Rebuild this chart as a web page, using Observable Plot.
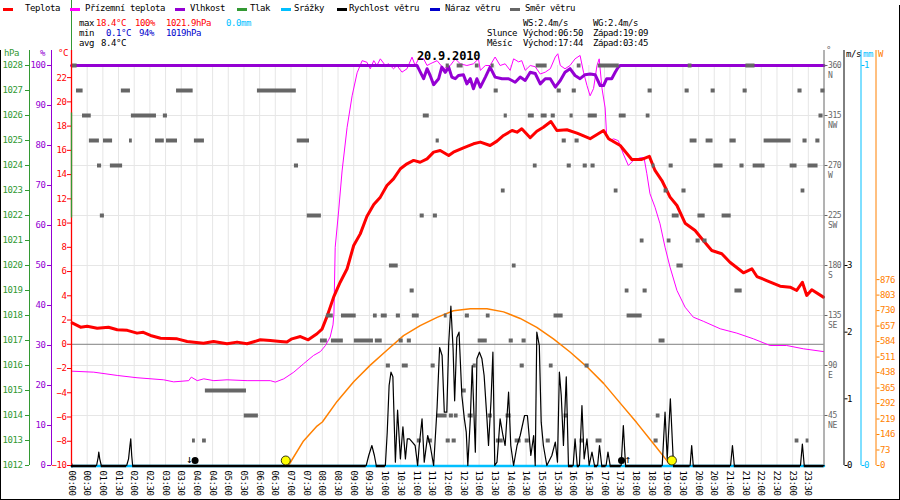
<!DOCTYPE html>
<html><head><meta charset="utf-8">
<script src="https://cdn.jsdelivr.net/npm/d3@7"></script>
<script src="https://cdn.jsdelivr.net/npm/@observablehq/plot@0.6"></script>
<style>
body{margin:0;background:#fff;}
#wrap{position:relative;width:900px;height:500px;overflow:hidden;font-family:"DejaVu Sans Mono",monospace;background:#fff;}
#hdr{position:absolute;left:0;top:0;width:900px;height:65px;pointer-events:none;}
#hdr span{position:absolute;white-space:pre;letter-spacing:-0.42px;}
#hdr div{position:absolute;}
svg text{letter-spacing:-0.42px;}
.bd{position:absolute;background:#000;}
</style></head><body>
<div id="wrap"><div id="chart"></div><div id="hdr"></div>
<div class="bd" style="left:0;top:50px;width:1px;height:450px"></div>
<div class="bd" style="left:899px;top:5px;width:1px;height:495px"></div>
<div class="bd" style="left:0;top:499px;width:900px;height:1px"></div>
</div>
<script>
// ---------- data (hours of day, values) ----------
const tempT = [[0.02,1.77],[0.29,1.41],[0.5,1.49],[0.82,1.33],[1.18,1.41],[1.46,1.2],[1.78,1.15],[2.09,0.92],[2.29,0.99],[2.52,0.73],[2.84,0.5],[3.37,0.45],[3.69,0.23],[4.21,0.09],[4.53,0.23],[4.96,0.04],[5.28,0.18],[5.6,0.04],[6.02,0.37],[6.34,0.32],[6.66,0.23],[6.87,0.18],[7.03,0.45],[7.3,0.64],[7.55,0.37],[7.83,0.87],[7.99,1.25],[8.15,2.3],[8.36,3.89],[8.57,5.12],[8.79,6.23],[9.0,8.15],[9.21,9.11],[9.42,10.54],[9.64,11.53],[9.85,12.14],[10.06,13.1],[10.27,13.65],[10.49,14.48],[10.7,14.89],[10.91,15.17],[11.12,15.02],[11.34,15.3],[11.55,15.85],[11.76,15.99],[12.03,15.58],[12.18,15.85],[12.5,16.21],[12.82,16.54],[13.04,16.68],[13.35,16.4],[13.57,16.76],[13.78,17.23],[14.05,17.64],[14.21,17.5],[14.36,17.78],[14.63,17.04],[14.84,17.58],[15.05,17.91],[15.29,18.38],[15.48,17.64],[15.8,17.7],[16.12,17.42],[16.22,17.31],[16.54,16.96],[16.97,17.64],[17.13,16.96],[17.5,16.4],[17.87,15.25],[18.19,15.25],[18.43,15.5],[18.61,14.34],[18.83,13.51],[19.09,12.14],[19.31,11.45],[19.57,9.99],[19.89,9.39],[20.15,8.56],[20.42,7.74],[20.74,7.47],[21.0,6.77],[21.43,5.9],[21.7,6.23],[21.86,5.59],[22.17,5.26],[22.6,4.79],[22.92,4.71],[23.13,4.44],[23.31,5.12],[23.45,4.03],[23.61,4.5],[23.98,3.89]];

const apparentT = [[0.02,-2.22],[0.71,-2.3],[1.46,-2.57],[2.09,-2.76],[2.94,-2.93],[3.26,-3.1],[3.74,-3.0],[3.82,-2.71],[4.01,-3.0],[4.22,-2.85],[4.54,-3.0],[4.96,-2.93],[5.6,-3.0],[6.34,-3.0],[6.5,-3.12],[6.77,-2.85],[7.09,-2.3],[7.4,-1.61],[7.72,-0.92],[7.94,-0.6],[8.1,-0.1],[8.25,0.6],[8.34,1.6],[8.37,2.5],[8.41,8.0],[8.52,11.0],[8.63,14.3],[8.79,17.9],[8.95,20.5],[9.11,22.4],[9.27,23.4],[9.42,23.27],[9.53,22.73],[9.64,23.4],[9.74,23.0],[9.85,23.55],[10.01,23.0],[10.11,23.14],[10.27,22.73],[10.38,23.0],[10.54,22.45],[10.7,22.73],[10.86,23.69],[10.96,23.0],[11.07,23.55],[11.23,23.55],[11.34,23.0],[11.44,23.14],[11.66,23.4],[11.87,22.73],[12.08,23.0],[12.24,23.55],[12.4,23.14],[12.61,23.0],[12.82,23.14],[12.98,23.55],[13.04,22.6],[13.2,23.0],[13.35,23.0],[13.51,23.7],[13.67,23.0],[13.83,23.14],[13.99,22.6],[14.1,23.55],[14.26,23.3],[14.36,23.4],[14.47,22.6],[14.63,23.0],[14.79,22.9],[14.95,22.3],[15.11,22.45],[15.27,22.73],[15.43,23.7],[15.51,23.97],[15.59,23.0],[15.74,22.73],[15.9,23.0],[16.06,23.55],[16.22,23.83],[16.33,22.45],[16.44,21.35],[16.54,20.5],[16.65,21.1],[16.76,23.0],[16.83,23.55],[16.92,21.1],[17.02,19.5],[17.07,17.1],[17.16,16.8],[17.29,16.95],[17.44,16.8],[17.6,15.7],[17.76,14.75],[17.92,15.17],[18.14,15.39],[18.26,15.4],[18.35,14.07],[18.45,12.42],[18.61,11.31],[18.77,9.94],[18.93,8.01],[19.09,6.36],[19.31,4.44],[19.57,3.06],[19.83,2.24],[20.15,1.9],[20.69,1.28],[21.22,0.92],[21.75,0.45],[22.28,-0.1],[22.81,-0.1],[23.34,-0.37],[23.98,-0.6]];

const humidity = [[0,100],[11.02,100],[11.07,99.2],[11.23,96.7],[11.34,99.2],[11.44,97.5],[11.55,95.2],[11.71,96.7],[11.81,99.6],[11.92,98.3],[12.03,99.6],[12.13,97.1],[12.24,96.7],[12.34,97.5],[12.5,97.7],[12.61,95.4],[12.72,96.7],[12.82,94.2],[12.93,96.7],[13.04,94.6],[13.2,97.1],[13.35,99.6],[13.51,97.1],[13.73,96.7],[13.94,96.7],[14.15,95.8],[14.31,97.1],[14.47,96.25],[14.63,98.3],[14.79,98.0],[14.95,95.4],[15.11,96.7],[15.27,96.7],[15.43,94.6],[15.59,96.25],[15.74,98.3],[15.9,99.2],[16.06,97.5],[16.22,96.7],[16.38,97.7],[16.54,97.9],[16.7,97.7],[16.86,95.0],[16.97,95.0],[17.07,96.7],[17.23,96.7],[17.34,98.3],[17.44,99.6],[17.5,100],[24,100]];

const windSpeed = [[0,0],[0.8,0],[0.85,0.12],[0.87,0.2],[0.9,0.1],[0.95,0],[1.76,0],[1.82,0.1],[1.86,0.28],[1.89,0.4],[1.92,0.15],[1.95,0],[9.4,0],[9.48,0.15],[9.58,0.3],[9.66,0.15],[9.72,0],[10.01,0],[10.07,0.5],[10.13,1.2],[10.19,1.4],[10.25,1.33],[10.33,0.05],[10.4,0.83],[10.49,0.1],[10.57,0.58],[10.65,0.1],[10.71,0.4],[10.78,0.4],[10.87,0.35],[10.96,0.3],[11.04,0],[11.09,0.3],[11.18,0.7],[11.25,0.05],[11.36,0.45],[11.44,0.3],[11.55,0],[11.66,0.87],[11.74,1.77],[11.82,1.65],[11.89,0.8],[11.97,0.8],[12.03,1.83],[12.1,2.39],[12.17,1.75],[12.22,0.97],[12.29,1.92],[12.36,2.0],[12.45,1.05],[12.53,0.7],[12.59,0.5],[12.64,0],[12.72,0.7],[12.78,1.5],[12.88,0.2],[12.93,1.6],[13.01,1.7],[13.09,1.6],[13.16,1.35],[13.25,0.7],[13.3,0.3],[13.38,0.97],[13.44,1.7],[13.5,0],[13.57,0.05],[13.67,0.7],[13.76,0.45],[13.83,0.3],[13.94,1.1],[14.01,0.3],[14.1,0],[14.21,0.3],[14.31,0.45],[14.45,0.75],[14.54,0.75],[14.65,0.15],[14.74,0.45],[14.79,0],[14.84,2.0],[14.92,1.8],[14.98,0.65],[15.05,0.3],[15.16,0],[15.32,0.15],[15.43,0.35],[15.5,0.05],[15.56,1.4],[15.62,1.05],[15.69,0.3],[15.78,1.33],[15.85,0],[16.0,0],[16.06,0.4],[16.13,0],[16.2,0],[16.28,0.9],[16.35,0.1],[16.44,0.4],[16.51,0],[16.6,0.2],[16.68,0],[16.78,0],[16.84,0.3],[16.91,0],[17.05,0],[17.11,0.2],[17.18,0],[17.53,0],[17.6,0.6],[17.67,0],[18.84,0],[18.93,0.8],[19.0,0.1],[19.1,1.0],[19.2,0],[19.73,0],[19.78,0.3],[19.83,0],[21.02,0],[21.08,0.3],[21.14,0],[23.25,0],[23.31,0.32],[23.37,0],[24,0]];

const solar = [[6.92,0],[7.4,116],[7.83,186],[8.0,205],[8.47,302],[9.0,395],[9.53,473],[10.06,543],[10.59,612],[11.12,659],[11.66,698],[12.18,729],[12.72,739],[13.25,739],[13.78,724],[14.31,693],[14.84,651],[15.37,597],[15.9,535],[16.44,465],[16.97,387],[17.5,294],[18.03,201],[18.57,101],[18.99,23],[19.1,0]];

const precip = [[0,0],[24,0]];
const pressureTrace = [[0,1021.9,1026.1]];

// wind direction: [from hour, to hour, degrees]
const windDir = [[0,0.06,0],[0.02,0.18,360],[0.16,0.37,337.5],[1.59,1.88,337.5],[3.35,3.88,337.5],[5.93,7.17,337.5],[0.35,0.63,315],[1.91,2.71,315],[2.93,3.06,315],[0.57,0.89,292.5],[1.02,1.31,292.5],[1.85,1.94,292.5],[2.68,2.96,292.5],[3.03,3.38,292.5],[3.92,4.24,292.5],[7.2,7.59,292.5],[0.83,0.96,270],[1.24,1.63,270],[7.11,7.24,270],[0.92,1.05,225],[7.52,7.97,225],[4.27,5.58,67.5],[5.51,5.96,45],[3.86,3.95,22.5],[4.18,4.3,22.5],
[11.95,12.05,360],[12.3,12.49,360],[12.88,13.0,360],[13.39,13.48,360],[14.82,15.17,360],[16.13,16.25,360],[16.8,17.47,360],
[13.48,13.61,337.5],[15.49,15.62,337.5],[15.97,16.1,337.5],
[11.22,11.41,315],[13.8,13.9,315],[14.57,14.76,315],[14.98,15.17,315],[15.3,15.43,315],[15.9,16.0,315],
[11.63,11.73,292.5],[15.65,15.78,292.5],[16.06,16.19,292.5],
[14.73,14.85,270],[15.81,15.94,270],[13.71,13.83,247.5],[11.12,11.25,225],[11.54,11.67,225],
[10.14,10.42,180],[14.06,14.18,180],[10.8,10.93,157.5],
[8.13,8.35,135],[8.61,9.08,135],[9.63,9.75,135],[9.88,10.07,135],[10.36,10.49,135],[10.87,11.09,135],[11.89,11.98,135],[12.56,12.69,135],[13.23,13.35,135],[15.39,15.68,135],
[7.94,8.16,112.5],[8.29,8.67,112.5],[9.02,9.63,112.5],[9.69,9.91,112.5],[10.45,10.58,112.5],[10.71,10.84,112.5],[12.97,13.26,112.5],[13.96,14.09,112.5],[14.37,14.5,112.5],
[10.04,10.17,90],[10.55,10.74,90],[11.47,11.6,90],[12.81,12.91,90],[14.31,14.44,90],[15.24,15.36,90],
[12.46,12.59,67.5],
[11.67,11.98,45],[12.05,12.18,45],[12.21,12.33,45],[12.65,12.81,45],[13.29,13.42,45],[13.86,14.02,45],[15.71,15.84,45],
[11.03,11.16,22.5],[11.38,11.51,22.5],[11.95,12.08,22.5],[12.14,12.27,22.5],[13.55,13.77,22.5],[14.15,14.34,22.5],[14.47,14.6,22.5],[15.14,15.27,22.5],
[19.67,19.79,360],[21.51,21.8,360],
[18.39,18.52,337.5],[19.57,19.7,337.5],[20.4,20.53,337.5],[21.42,21.55,337.5],[23.17,23.3,337.5],[23.9,24.03,337.5],
[16.48,16.77,315],[17.47,17.69,315],[18.33,18.45,315],[23.84,23.97,315],
[19.73,19.95,292.5],[20.24,20.46,292.5],[21.0,21.2,292.5],[22.09,22.95,292.5],[23.33,23.46,292.5],[23.74,23.87,292.5],
[16.32,16.45,270],[16.57,16.7,270],[18.52,18.61,270],[19.06,19.19,270],[20.49,20.78,270],[21.32,21.45,270],[21.74,22.12,270],[22.92,23.14,270],[23.49,23.81,270],
[17.31,17.43,247.5],[18.9,19.03,247.5],[19.47,19.6,247.5],[23.27,23.39,247.5],
[19.16,19.38,225],[19.98,20.21,225],[20.75,21.04,225],
[18.14,18.26,202.5],[19.0,19.12,202.5],[19.92,20.05,202.5],[20.14,20.27,202.5],
[19.31,19.51,180],[17.66,17.78,157.5],[18.23,18.36,157.5],[21.16,21.39,157.5],
[17.72,18.2,135],[18.74,18.93,112.5],[16.38,16.51,90],[18.65,18.77,45],
[16.22,16.35,22.5],[16.73,16.92,22.5],[18.58,18.71,22.5],[23.08,23.2,22.5],[23.43,23.52,22.5]];

const sunEvents = [[6 + 50/60, "Východ"], [19 + 9/60, "Západ"]];
const moonSet = [3 + 45/60];
const moonRise = [17 + 44/60];

// tick labels
const timeTicks = d3.range(0, 24, 0.5);
const tempTicks = d3.range(-10, 23, 2);
const humTicks = d3.range(0, 101, 10);
const pressTicks = d3.range(1012, 1029, 1);
const dirTicks = [45, 90, 135, 180, 225, 270, 315, 360];
const compass = {45:"NE", 90:"E", 135:"SE", 180:"S", 225:"SW", 270:"W", 315:"NW", 360:"N"};
const msTicks = [0, 1, 2, 3];
const mmTicks = [0, 1];
const wTicks = d3.range(0, 877, 73);

// header texts
const legendItems = [["Teplota","#ff0000",3,25],["Přízemní teplota","#ff00ff",70,85],["Vlhkost","#9400d3",175,190],["Tlak","#339933",237,250],["Srážky","#00bfff",281,294],["Rychlost větru","#000000",337,349],["Náraz větru","#0000cc",430,445],["Směr větru","#666666",510,525]];
const statTexts = [["max",79,24,"#000"],["18.4°C",96,24,"#f00"],["100%",135,24,"#f00"],["1021.9hPa",166,24,"#f00"],["0.0mm",226,24,"#00bfff"],
["min",79,34,"#000"],["0.1°C",106,34,"#0000cc"],["94%",139,34,"#0000cc"],["1019hPa",166,34,"#0000cc"],
["avg",79,44,"#000"],["8.4°C",101,44,"#000"],
["WS:2.4m/s",523,24,"#000"],["WG:2.4m/s",593,24,"#000"],
["Slunce",487,34,"#000"],["Východ:06:50",523,34,"#000"],["Západ:19:09",593,34,"#000"],
["Měsíc",487,44,"#000"],["Východ:17:44",523,44,"#000"],["Západ:03:45",593,44,"#000"],
["hPa",4,54,"#339933"],["%",40,54,"#9400d3"],["°C",58,54,"#ff0000"],
["°",826,51,"#666"],["m/s",846,55,"#000"],["mm",863,55,"#00bfff"],["W",878,55,"#ff8000"]];
const title = "20.9.2010";

// ---------- secondary-axis conversions into the temperature scale ----------
const hum2T = h => -10 + h * 33 / 100, T2hum = t => (t + 10) * 100 / 33;
const p2T = p => -10 + (p - 1012) * 33 / 16, T2p = t => 1012 + (t + 10) * 16 / 33;
const dir2T = d => -10 + d * 33 / 360, T2dir = t => (t + 10) * 360 / 33;
const ms2T = v => -10 + v * 33 / 6, T2ms = t => (t + 10) * 6 / 33;
const mm2T = m => -10 + m * 33, T2mm = t => (t + 10) / 33;
const W2T = w => -10 + w * 33 / 1885, T2W = t => (t + 10) * 1885 / 33;

const fmtTime = h => String(Math.floor(h)).padStart(2, "0") + ":" + (h % 1 ? "30" : "00");

// zero runs of wind speed (drawn as thick baseline)
const zeroRuns = [];
for (let i = 1; i < windSpeed.length; i++) {
  if (windSpeed[i - 1][1] === 0 && windSpeed[i][1] === 0) zeroRuns.push([windSpeed[i - 1][0], windSpeed[i][0]]);
}

const C = {red:"#ff0000", mag:"#ff00ff", pur:"#9400d3", grn:"#339933", cyan:"#00bfff", gray:"#666666", org:"#ff8000", grid:"#e6e6e6"};

const chart = Plot.plot({
  width: 900, height: 500,
  marginTop: 65, marginBottom: 35, marginLeft: 71, marginRight: 76.5,
  x: {domain: [0, 24]},
  y: {domain: [-10, 23]},
  style: {fontFamily: "DejaVu Sans Mono", fontSize: "9px", background: "white", color: "black"},
  marks: [
    Plot.ruleX(d3.range(0.5, 24, 0.5), {stroke: C.grid}),
    Plot.ruleY(dirTicks.slice(0, -1).map(dir2T), {stroke: C.grid}),
    Plot.ruleY([0], {stroke: "#808080"}),
    Plot.line(solar, {x: d => d[0], y: d => W2T(d[1]), stroke: C.org, strokeWidth: 1.5}),
    Plot.line(apparentT, {x: d => d[0], y: d => d[1], stroke: C.mag, strokeWidth: 1}),
    Plot.line(humidity, {x: d => d[0], y: d => hum2T(d[1]), stroke: C.pur, strokeWidth: 3}),
    Plot.line(tempT, {x: d => d[0], y: d => d[1], stroke: C.red, strokeWidth: 3}),
    Plot.ruleY(windDir, {y: d => dir2T(d[2]), x1: d => d[0], x2: d => d[1], stroke: C.gray, strokeWidth: 4}),
    Plot.line(precip, {x: d => d[0], y: d => mm2T(d[1]), stroke: C.cyan, strokeWidth: 2.5, dy: 0.5}),
    Plot.line(windSpeed, {x: d => d[0], y: d => ms2T(d[1]), stroke: "black", strokeWidth: 1.2}),
    Plot.ruleY(zeroRuns, {y: -10, x1: d => d[0], x2: d => d[1], stroke: "black", strokeWidth: 2.5, dy: 0.5}),
    Plot.dot(sunEvents, {x: d => d[0], y: -10, dy: -5, r: 4.5, fill: "#ffff00", stroke: "black", strokeWidth: 0.8}),
    Plot.dot(moonSet, {x: d => d, y: -10, dx: 6, dy: -5, r: 3.5, fill: "black"}),
    Plot.dot(moonRise, {x: d => d, y: -10, dx: -6, dy: -5, r: 3.5, fill: "black"}),
    Plot.text(moonSet, {x: d => d, y: -10, text: () => "↓", dy: -6, fontSize: 11}),
    Plot.text(moonRise, {x: d => d, y: -10, text: () => "↑", dy: -6, fontSize: 11}),
    // left edge (pressure trace artifact + temperature axis line)
    Plot.ruleX([0], {stroke: C.grn, insetTop: -65, insetBottom: 415}),
    Plot.ruleX([0], {stroke: C.red, strokeWidth: 1.3, insetTop: -15}),
    Plot.ruleX(pressureTrace, {x: d => d[0], y1: d => p2T(d[1]), y2: d => p2T(d[2]), stroke: C.grn, strokeWidth: 1.3}),
    // other axis lines
    Plot.ruleX([0], {dx: -20, stroke: C.pur, insetTop: -15}),
    Plot.ruleX([0], {dx: -42, stroke: C.grn, insetTop: -15}),
    Plot.ruleX([24], {stroke: C.gray, insetTop: -15}),
    Plot.ruleX([24], {dx: 20, stroke: "black", insetTop: -15}),
    Plot.ruleX([24], {dx: 37, stroke: C.cyan, insetTop: -15}),
    Plot.ruleX([24], {dx: 52, stroke: C.org, insetTop: -15}),
    // axes
    Plot.axisX({ticks: timeTicks, tickFormat: fmtTime, tickRotate: 90, tickSize: 0, tickPadding: 5, label: null}),
    Plot.axisY({anchor: "left", ticks: tempTicks, tickSize: 4, tickPadding: 1, color: C.red, label: null}),
    Plot.axisY({anchor: "left", ticks: humTicks.map(hum2T), tickFormat: t => String(Math.round(T2hum(t))), dx: -20, tickSize: 4, tickPadding: 2, color: C.pur, label: null}),
    Plot.axisY({anchor: "left", ticks: pressTicks.map(p2T), tickFormat: t => String(Math.round(T2p(t))), dx: -42, tickSize: 4, tickPadding: 3, color: C.grn, label: null}),
    Plot.axisY({anchor: "right", ticks: dirTicks.map(dir2T), tickFormat: t => String(Math.round(T2dir(t))), tickSize: 3, tickPadding: 1, color: C.gray, label: null, fontSize: 8}),
    Plot.axisY({anchor: "right", ticks: dirTicks.map(dir2T), tickFormat: t => compass[Math.round(T2dir(t))], tickSize: 0, tickPadding: 4, dy: 10, color: C.gray, label: null, fontSize: 8}),
    Plot.axisY({anchor: "right", ticks: msTicks.map(ms2T), tickFormat: t => String(Math.round(T2ms(t))), dx: 20, tickSize: 3, tickPadding: 0, color: "black", label: null}),
    Plot.axisY({anchor: "right", ticks: mmTicks.map(mm2T), tickFormat: t => String(Math.round(T2mm(t))), dx: 37, tickSize: 3, tickPadding: 0, color: C.cyan, label: null}),
    Plot.axisY({anchor: "right", ticks: wTicks.map(W2T), tickFormat: t => String(Math.round(T2W(t))), dx: 52, tickSize: 3, tickPadding: 1, color: C.org, label: null})
  ]
});
document.getElementById("chart").appendChild(chart);

// ---------- header ----------
const hdr = document.getElementById("hdr");
function addText(txt, x, yc, color, size = 9, bold = false) {
  const s = document.createElement("span");
  s.textContent = txt;
  s.style.left = x + "px";
  s.style.top = (yc - size * 0.58) + "px";
  s.style.fontSize = size + "px";
  s.style.lineHeight = size + "px";
  s.style.color = color;
  if (bold) { s.style.fontWeight = "bold"; s.style.letterSpacing = "-0.2px"; }
  hdr.appendChild(s);
}
legendItems.forEach(([label, color, lx, tx]) => {
  const l = document.createElement("div");
  l.style.cssText = `left:${lx}px;top:8px;width:10px;height:3px;background:${color}`;
  hdr.appendChild(l);
  addText(label, tx, 9, "#000");
});
statTexts.forEach(([t, x, y, c]) => addText(t, x, y, c));
addText(title, 417, 57, "#000", 12, true);
</script>
</body></html>
